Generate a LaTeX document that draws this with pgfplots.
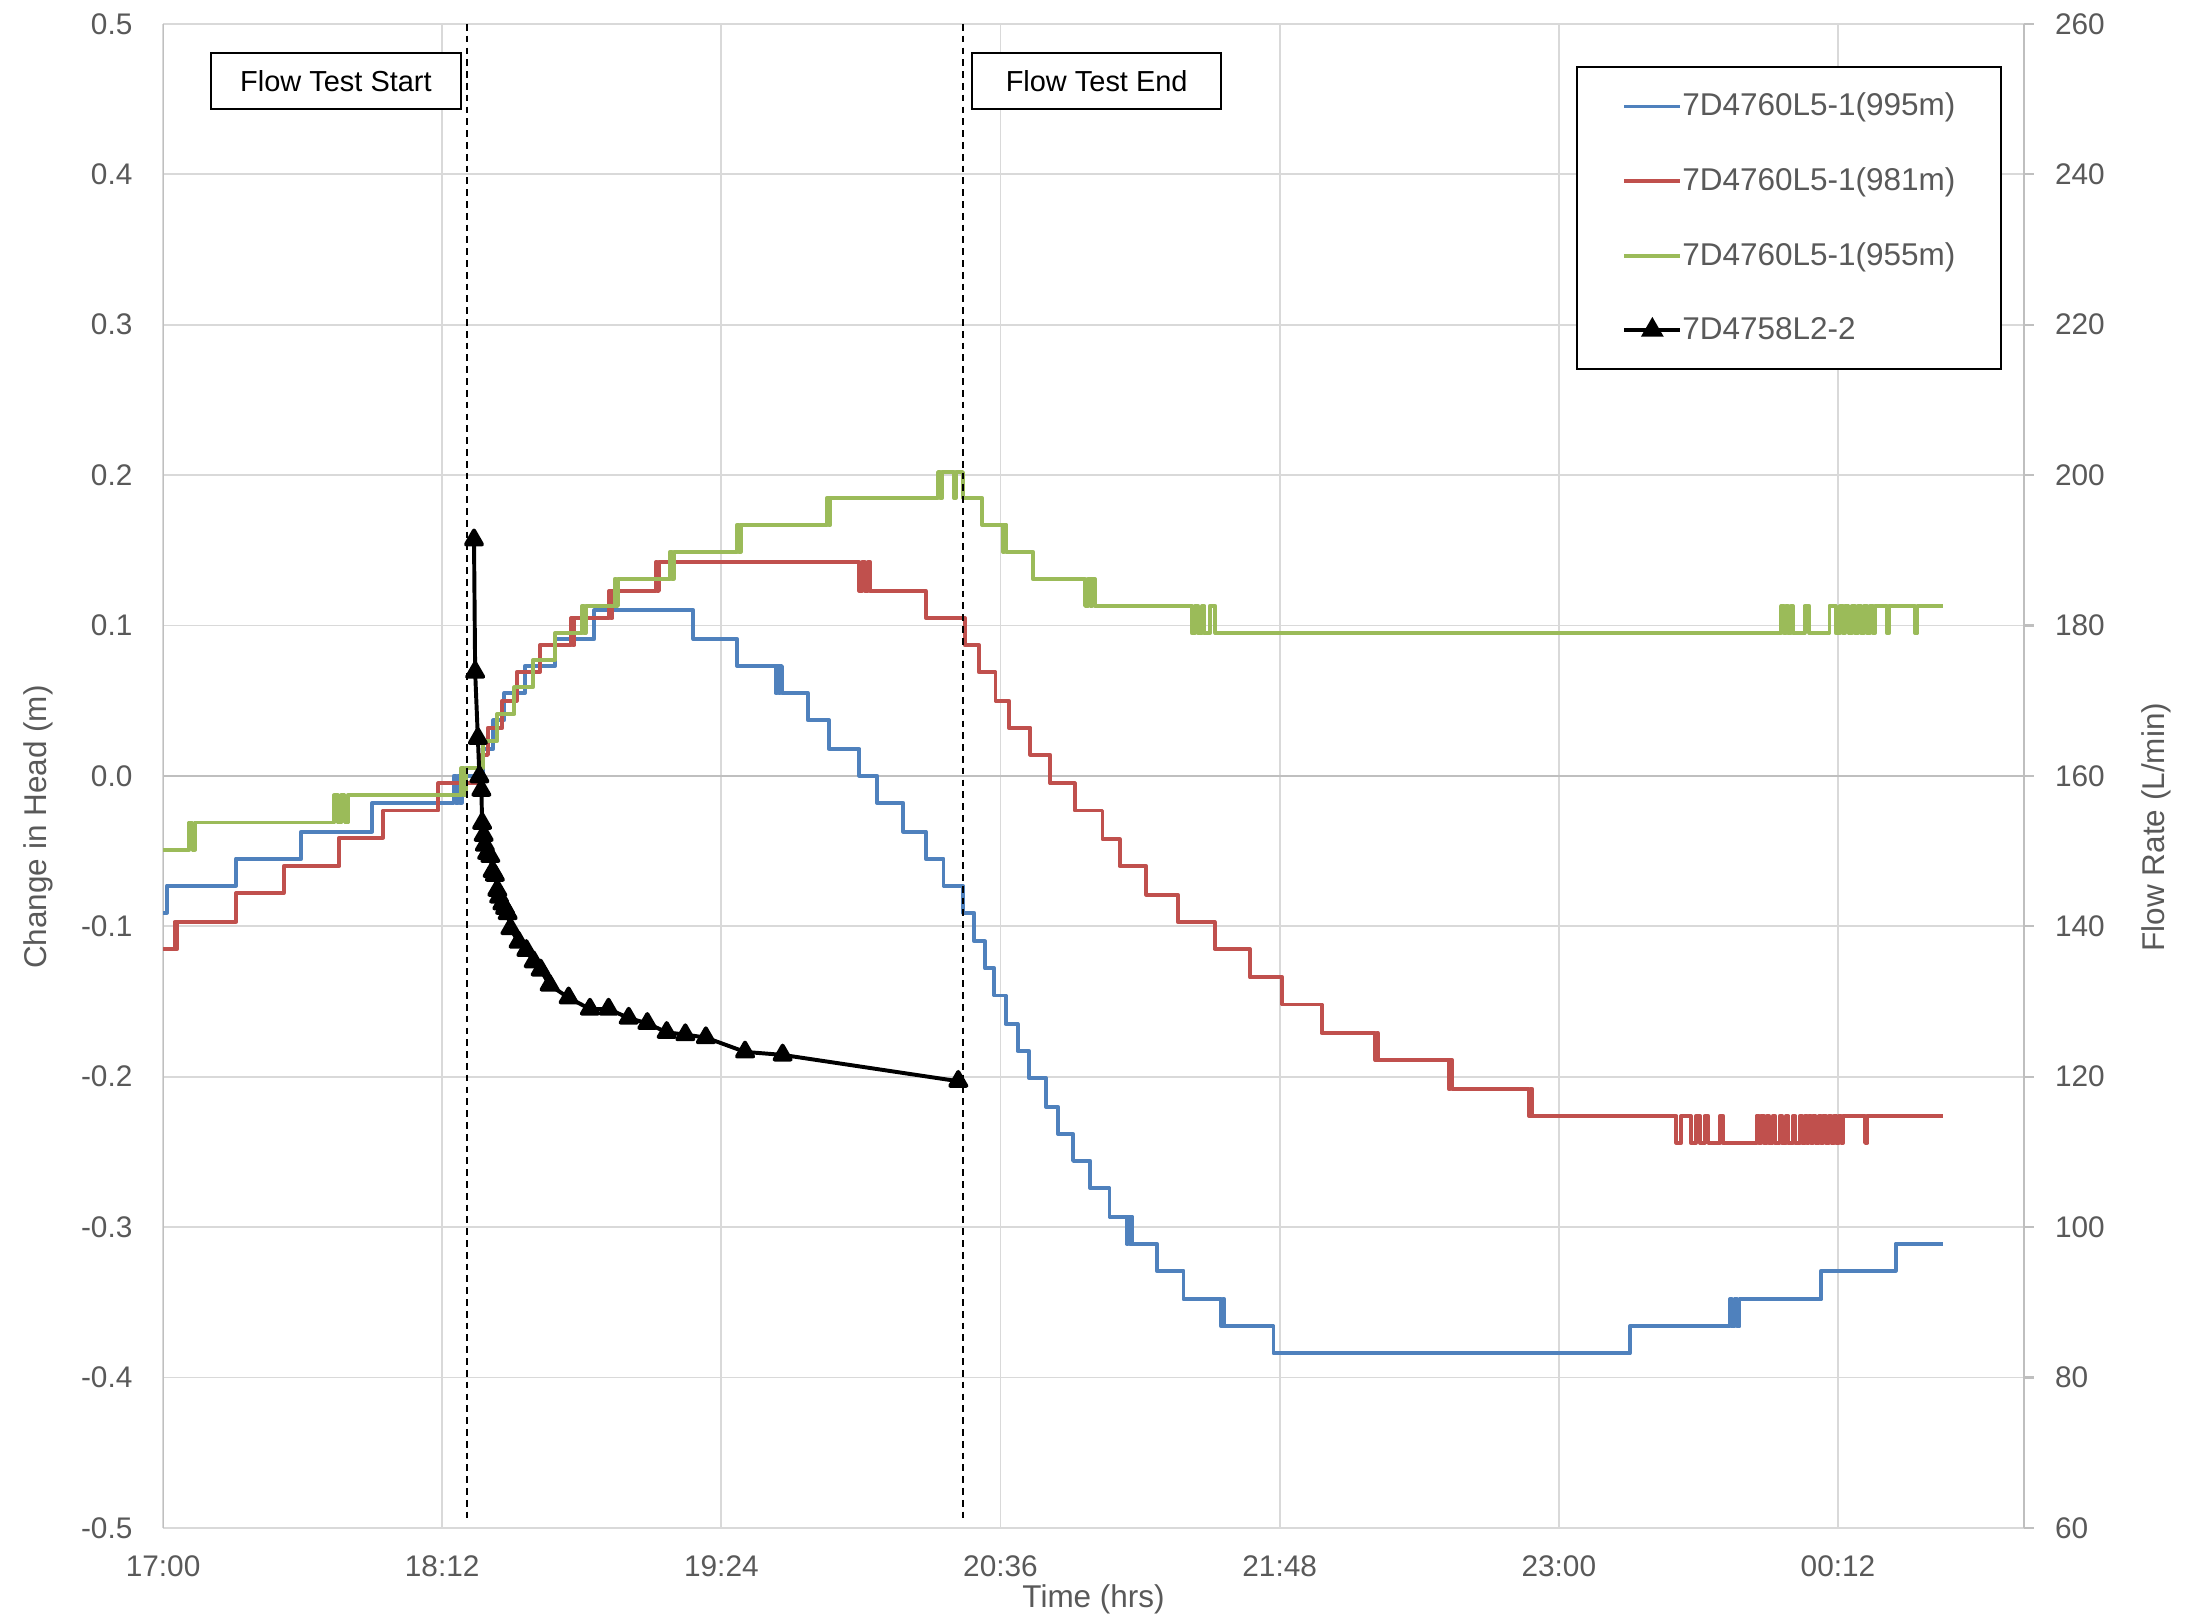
\documentclass[border=0pt]{standalone}
\usepackage{fontspec}
\setmainfont{Liberation Sans}
\usepackage{pgfplots}
\pgfplotsset{compat=1.18}
\definecolor{cblue}{HTML}{4F81BD}
\definecolor{cred}{HTML}{C0504D}
\definecolor{cgreen}{HTML}{9BBB59}
\definecolor{cgrid}{HTML}{D9D9D9}
\definecolor{caxis}{HTML}{BFBFBF}
\definecolor{ctext}{HTML}{595959}
\begin{document}
\begin{tikzpicture}
\useasboundingbox (-58pt,-33pt) rectangle (726pt,543.5pt);
\begin{axis}[
  scale only axis, width=662pt, height=535pt,
  xmin=0, xmax=480, ymin=-0.5, ymax=0.5,
  axis line style={draw=none},
  xtick={0,72,144,216,288,360,432},
  xticklabels={17:00,18:12,19:24,20:36,21:48,23:00,00:12},
  ytick={-0.5,-0.4,-0.3,-0.2,-0.1,0,0.1,0.2,0.3,0.4,0.5},
  yticklabels={-0.5,-0.4,-0.3,-0.2,-0.1,0.0,0.1,0.2,0.3,0.4,0.5},
  tick style={draw=none},
  grid=major, major grid style={draw=cgrid, line width=0.65pt},
  ticklabel style={font=\fontsize{10.6}{12}\selectfont, text=ctext},
  xticklabel style={anchor=center, inner sep=0pt, yshift=-13.5pt},
  yticklabel style={anchor=east, inner sep=0pt, xshift=-10.7pt},
  xlabel={Time (hrs)},
  xlabel style={at={([yshift=-25.5pt]rel axis cs:0.5,0)}, anchor=center, font=\fontsize{11.2}{13}\selectfont, text=ctext},
  ylabel={Change in Head (m)},
  ylabel style={at={([xshift=-44.5pt]rel axis cs:0,0.466)}, anchor=center, rotate=0, font=\fontsize{11.2}{13}\selectfont, text=ctext},
  legend cell align=left,
  legend image code/.code={\draw[mark repeat=2,mark phase=2,#1] plot coordinates {(0pt,0pt) (10pt,0pt) (20pt,0pt)};},
  legend style={at={(rel axis cs:0.759,0.972)}, anchor=north west, draw=black, line width=0.8pt, fill=white,
    font=\fontsize{11.2}{13}\selectfont, inner xsep=16.2pt, inner ysep=9.2pt, row sep=16.95pt, column sep=0pt,
    nodes={inner sep=0pt, text=ctext}},
  const plot mark left,
]
\draw[caxis, line width=0.75pt] (axis cs:0,-0.5) -- (axis cs:0,0.5);
\draw[caxis, line width=0.75pt] (axis cs:0,0) -- (axis cs:480,0);
\addplot[cblue, line width=1.4pt, line join=round, const plot] coordinates {
(0,-0.091)(1,-0.073)(18.8,-0.055)(35.7,-0.037)(53.9,-0.018)(75.0,0)(75.5,-0.018)(76.0,0)(76.5,-0.018)(77.0,0)
(82.5,0.018)(85.2,0.037)(88.0,0.055)(93.3,0.073)(101.1,0.091)(111.2,0.110)(136.8,0.091)(148.1,0.073)
(158.0,0.055)(158.4,0.073)(158.8,0.055)(159.2,0.073)(159.6,0.055)(166.3,0.037)(171.8,0.018)(179.6,0)
(184.2,-0.018)(190.9,-0.037)(196.7,-0.055)(201.3,-0.073)(206.3,-0.091)(209.2,-0.110)(212.0,-0.128)
(214.4,-0.146)(217.3,-0.165)(220.4,-0.183)(223.4,-0.201)(227.7,-0.220)(230.8,-0.238)(234.7,-0.256)
(239.1,-0.274)(244.1,-0.293)(248.5,-0.311)(248.9,-0.293)(249.3,-0.311)(249.7,-0.293)(250.0,-0.311)
(256.3,-0.329)(263.2,-0.348)(272.9,-0.366)(273.3,-0.348)(273.7,-0.366)(286.4,-0.384)(378.3,-0.366)
(404.1,-0.348)(404.6,-0.366)(405.3,-0.348)(406.0,-0.366)(406.6,-0.348)(427.7,-0.329)(446.9,-0.311)(459.1,-0.311)
};
\addlegendentry{7D4760L5-1(995m)}
\addplot[cred, line width=1.4pt, line join=round, const plot] coordinates {
(0,-0.115)(3.0,-0.097)(3.3,-0.115)(3.7,-0.097)(18.8,-0.078)(31.1,-0.060)(45.5,-0.041)(56.8,-0.023)(71.0,-0.005)
(81.5,0.014)(83.8,0.032)(87.5,0.050)(91.2,0.069)(97.2,0.087)(105.3,0.105)(105.7,0.087)(106.1,0.105)
(115.1,0.123)(115.5,0.105)(115.9,0.123)(127.1,0.142)(127.5,0.123)(127.9,0.142)(179.6,0.123)(180.3,0.142)
(181.0,0.123)(181.7,0.142)(182.4,0.123)(196.7,0.105)(206.8,0.087)(210.4,0.069)(214.7,0.050)(218.1,0.032)
(223.7,0.014)(228.8,-0.005)(235.1,-0.023)(242.3,-0.042)(246.7,-0.060)(253.6,-0.079)(261.7,-0.097)
(271.2,-0.115)(280.3,-0.134)(288.7,-0.152)(298.8,-0.171)(312.7,-0.189)(313.0,-0.171)(313.3,-0.189)
(331.6,-0.208)(332.0,-0.189)(332.5,-0.208)(352.3,-0.226)(352.7,-0.208)(353.1,-0.226)
(390.3,-0.244)(391.6,-0.226)(394.0,-0.244)(395.4,-0.226)(396.4,-0.244)(397.6,-0.226)(398.5,-0.244)
(401.6,-0.226)(402.4,-0.244)(411.0,-0.226)(411.6,-0.244)(412.2,-0.226)(412.8,-0.244)(413.6,-0.226)
(414.2,-0.244)(415.2,-0.226)(415.8,-0.244)(417.0,-0.226)(417.6,-0.244)(418.6,-0.226)(419.2,-0.244)
(420.4,-0.226)(421.0,-0.244)(422.2,-0.226)(422.8,-0.244)(423.6,-0.226)(424.0,-0.244)(424.5,-0.226)
(425.0,-0.244)(425.6,-0.226)(426.2,-0.244)(427.0,-0.226)(427.6,-0.244)(428.2,-0.226)(428.8,-0.244)
(429.6,-0.226)(430.2,-0.244)(431.0,-0.226)(431.6,-0.244)(432.2,-0.226)(432.8,-0.244)(433.3,-0.226)
(439.0,-0.244)(439.6,-0.226)(459.1,-0.226)
};
\addlegendentry{7D4760L5-1(981m)}
\addplot[cgreen, line width=1.4pt, line join=round, const plot] coordinates {
(0,-0.049)(6.8,-0.031)(7.6,-0.049)(8.3,-0.031)(44.1,-0.013)(45.2,-0.031)(46.0,-0.013)(46.8,-0.031)(47.6,-0.013)
(76.9,0.005)(77.5,-0.013)(78.1,0.005)(82.5,0.023)(86.1,0.041)(90.6,0.059)(95.4,0.077)(101.1,0.095)
(108.1,0.113)(108.5,0.095)(109.0,0.113)(116.5,0.131)(116.9,0.113)(117.3,0.131)(130.8,0.149)(131.2,0.131)
(131.7,0.149)(148.1,0.167)(148.5,0.149)(149.0,0.167)(171.3,0.185)(171.7,0.167)(172.1,0.185)(199.9,0.202)
(200.4,0.185)(201.0,0.202)(203.9,0.185)(204.5,0.202)(206.3,0.185)(211.2,0.167)(216.6,0.149)(217.0,0.167)
(217.5,0.149)(224.3,0.131)(237.8,0.113)(238.5,0.131)(239.2,0.113)(239.7,0.131)(240.3,0.113)(265.3,0.095)
(266.2,0.113)(267.0,0.095)(268.0,0.113)(268.6,0.095)(270.0,0.113)(271.4,0.095)(417.4,0.113)(418.0,0.095)
(418.6,0.113)(419.2,0.095)(419.8,0.113)(420.4,0.095)(423.4,0.113)(424.6,0.095)(429.8,0.113)(431.4,0.095)
(432.4,0.113)(433.2,0.095)(433.9,0.113)(434.7,0.095)(435.5,0.113)(436.3,0.095)(437.1,0.113)(437.9,0.095)
(438.7,0.113)(439.5,0.095)(440.3,0.113)(441.0,0.095)(441.5,0.113)(444.6,0.095)(445.2,0.113)(451.9,0.095)
(452.5,0.113)(459.1,0.113)
};
\addlegendentry{7D4760L5-1(955m)}
\addlegendimage{black, line width=1.4pt, mark=triangle*, mark size=3.3pt}
\addlegendentry{7D4758L2-2}
\end{axis}
\begin{axis}[
  scale only axis, width=662pt, height=535pt,
  xmin=0, xmax=480, ymin=60, ymax=260,
  axis x line=none, axis y line*=right,
  axis line style={draw=caxis, line width=0.75pt, -},
  ytick={60,80,100,120,140,160,180,200,220,240,260},
  yticklabels={60,80,100,120,140,160,180,200,220,240,260},
  tick align=outside, major tick length=3.5pt,
  ytick style={draw=caxis, line width=0.75pt},
  yticklabel style={anchor=west, inner sep=0pt, xshift=7.3pt, font=\fontsize{10.6}{12}\selectfont, text=ctext},
  ylabel={Flow Rate (L/min)},
  ylabel style={at={([xshift=47pt]rel axis cs:1,0.466)}, anchor=center, rotate=0, font=\fontsize{11.2}{13}\selectfont, text=ctext},
]
\addplot[black, line width=1.4pt, line join=round, mark=triangle*, mark size=3.3pt, mark options={solid}] coordinates {
(80.2,191.4)(80.5,173.8)(81.2,165.0)(81.6,159.9)(82.1,158.1)(82.3,153.7)(82.7,152.1)(83.0,150.8)(83.6,149.7)
(84.4,149.3)(85.0,147.3)(85.6,146.8)(86.2,144.8)(86.7,143.9)(87.5,143.0)(88.2,142.4)(88.9,141.7)(89.6,139.7)
(91.7,137.9)(93.7,136.8)(95.6,135.3)(97.4,134.2)(99.7,132.2)(104.6,130.5)(110.1,129.0)(114.9,129.0)
(120.1,127.8)(124.9,127.1)(129.9,125.9)(134.7,125.6)(140.0,125.2)(150.1,123.3)(159.8,122.9)(205.1,119.4)
};
\addplot[black, line width=0.7pt, dash pattern=on 2.4pt off 1.8pt, forget plot] coordinates {(78.3,260)(78.3,61)};
\addplot[black, line width=0.7pt, dash pattern=on 2.4pt off 1.8pt, forget plot] coordinates {(206.2,260)(206.2,61)};
\node[draw=black, line width=0.75pt, fill=white, minimum width=89pt, minimum height=19.7pt, inner sep=0pt,
  font=\fontsize{10.3}{12}\selectfont] at (axis cs:44.6,252.4) {Flow Test Start};
\node[draw=black, line width=0.75pt, fill=white, minimum width=88.5pt, minimum height=19.7pt, inner sep=0pt,
  font=\fontsize{10.3}{12}\selectfont] at (axis cs:240.8,252.4) {Flow Test End};
\end{axis}
\end{tikzpicture}
\end{document}
